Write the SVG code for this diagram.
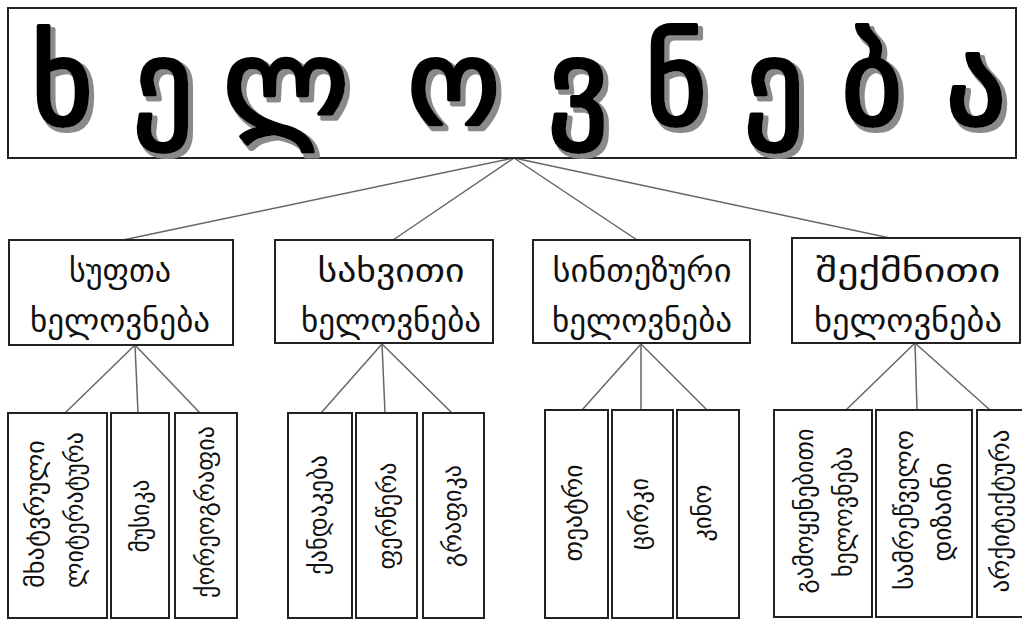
<svg xmlns="http://www.w3.org/2000/svg" width="1022" height="621" viewBox="0 0 1022 621">
<style>
.box{fill:#fff;stroke:#222;stroke-width:2}
.conn line{stroke:#666;stroke-width:1.5}
.t{font-family:"DejaVu Sans",sans-serif;fill:#111;text-anchor:middle}
.l2{font-size:32px}
.lf{font-size:26px}
.title{font-family:"DejaVu Sans",sans-serif;font-size:118px;text-anchor:middle;fill:#000;stroke:#000;stroke-width:4;stroke-linejoin:round}
</style>
<defs>
<filter id="shadow" x="-10%" y="-10%" width="130%" height="130%">
<feMorphology in="SourceAlpha" operator="dilate" radius="1" result="d"/>
<feOffset in="d" dx="4" dy="4" result="o"/>
<feFlood flood-color="#8a8a8a"/>
<feComposite in2="o" operator="in" result="s"/>
<feMerge><feMergeNode in="s"/><feMergeNode in="SourceGraphic"/></feMerge>
</filter>
</defs>
<rect width="1022" height="621" fill="#fff"/>
<g id="connectors" class="conn">
<line x1="514" y1="158" x2="123" y2="240"/>
<line x1="514" y1="158" x2="393" y2="240"/>
<line x1="514" y1="158" x2="637" y2="240"/>
<line x1="514" y1="158" x2="890" y2="238"/>
<line x1="135" y1="345" x2="65" y2="413"/>
<line x1="135" y1="345" x2="138" y2="413"/>
<line x1="135" y1="345" x2="200" y2="413"/>
<line x1="382" y1="344" x2="321" y2="413"/>
<line x1="382" y1="344" x2="385" y2="413"/>
<line x1="382" y1="344" x2="452" y2="413"/>
<line x1="641" y1="344" x2="582" y2="410"/>
<line x1="641" y1="344" x2="641" y2="410"/>
<line x1="641" y1="344" x2="707" y2="410"/>
<line x1="915" y1="343" x2="846" y2="410"/>
<line x1="915" y1="343" x2="917" y2="410"/>
<line x1="915" y1="343" x2="990" y2="410"/>
</g>
<g id="root">
<rect class="box" x="8" y="8" width="1008" height="150"/>
<text class="title" filter="url(#shadow)" x="62 163 286 454 578 676 774 872 976" y="124">ხელოვნება</text>
</g>
<g id="n-pure">
<rect class="box" x="9" y="240" width="224" height="105"/>
<text class="t l2" x="120" y="282" textLength="102" lengthAdjust="spacingAndGlyphs">სუფთა</text>
<text class="t l2" x="120" y="332" textLength="180" lengthAdjust="spacingAndGlyphs">ხელოვნება</text>
</g>
<g id="n-fine">
<rect class="box" x="275" y="240" width="218" height="103"/>
<text class="t l2" x="391" y="282" textLength="147" lengthAdjust="spacingAndGlyphs">სახვითი</text>
<text class="t l2" x="391" y="332" textLength="180" lengthAdjust="spacingAndGlyphs">ხელოვნება</text>
</g>
<g id="n-synth">
<rect class="box" x="533" y="240" width="217" height="103"/>
<text class="t l2" x="642" y="282" textLength="179" lengthAdjust="spacingAndGlyphs">სინთეზური</text>
<text class="t l2" x="642" y="332" textLength="180" lengthAdjust="spacingAndGlyphs">ხელოვნება</text>
</g>
<g id="n-create">
<rect class="box" x="792" y="238" width="228" height="105"/>
<text class="t l2" x="908" y="282" textLength="185" lengthAdjust="spacingAndGlyphs">შექმნითი</text>
<text class="t l2" x="908" y="332" textLength="188" lengthAdjust="spacingAndGlyphs">ხელოვნება</text>
</g>
<g id="leaf-literature">
<rect class="box" x="8" y="413" width="99" height="205"/>
<text class="t lf" transform="translate(36,514) rotate(-90)" dy="8" textLength="148" lengthAdjust="spacingAndGlyphs">მხატვრული</text>
<text class="t lf" transform="translate(75,510) rotate(-90)" dy="8" textLength="156" lengthAdjust="spacingAndGlyphs">ლიტერატურა</text>
</g>
<g id="leaf-music">
<rect class="box" x="111" y="413" width="58" height="205"/>
<text class="t lf" transform="translate(141,516) rotate(-90)" dy="8" textLength="73" lengthAdjust="spacingAndGlyphs">მუსიკა</text>
</g>
<g id="leaf-choreo">
<rect class="box" x="175" y="413" width="62" height="205"/>
<text class="t lf" transform="translate(206,512) rotate(-90)" dy="8" textLength="172" lengthAdjust="spacingAndGlyphs">ქორეოგრაფია</text>
</g>
<g id="leaf-sculpture">
<rect class="box" x="288" y="413" width="64" height="205"/>
<text class="t lf" transform="translate(319,515) rotate(-90)" dy="8" textLength="120" lengthAdjust="spacingAndGlyphs">ქანდაკება</text>
</g>
<g id="leaf-painting">
<rect class="box" x="356" y="413" width="61" height="205"/>
<text class="t lf" transform="translate(388,516) rotate(-90)" dy="8" textLength="107" lengthAdjust="spacingAndGlyphs">ფერწერა</text>
</g>
<g id="leaf-graphics">
<rect class="box" x="423" y="413" width="61" height="205"/>
<text class="t lf" transform="translate(453,516) rotate(-90)" dy="8" textLength="102" lengthAdjust="spacingAndGlyphs">გრაფიკა</text>
</g>
<g id="leaf-theatre">
<rect class="box" x="545" y="410" width="63" height="208"/>
<text class="t lf" transform="translate(574,513) rotate(-90)" dy="8" textLength="97" lengthAdjust="spacingAndGlyphs">თეატრი</text>
</g>
<g id="leaf-circus">
<rect class="box" x="612" y="410" width="61" height="208"/>
<text class="t lf" transform="translate(640,514) rotate(-90)" dy="8" textLength="72" lengthAdjust="spacingAndGlyphs">ცირკი</text>
</g>
<g id="leaf-cinema">
<rect class="box" x="677" y="410" width="62" height="208"/>
<text class="t lf" transform="translate(703,513) rotate(-90)" dy="8" textLength="57" lengthAdjust="spacingAndGlyphs">კინო</text>
</g>
<g id="leaf-applied">
<rect class="box" x="774" y="410" width="98" height="207"/>
<text class="t lf" transform="translate(805,511) rotate(-90)" dy="8" textLength="165" lengthAdjust="spacingAndGlyphs">გამოყენებითი</text>
<text class="t lf" transform="translate(844,512) rotate(-90)" dy="8" textLength="130" lengthAdjust="spacingAndGlyphs">ხელოვნება</text>
</g>
<g id="leaf-design">
<rect class="box" x="876" y="410" width="96" height="207"/>
<text class="t lf" transform="translate(905,510) rotate(-90)" dy="8" textLength="160" lengthAdjust="spacingAndGlyphs">სამრეწველო</text>
<text class="t lf" transform="translate(943,512) rotate(-90)" dy="8" textLength="99" lengthAdjust="spacingAndGlyphs">დიზაინი</text>
</g>
<g id="leaf-architecture">
<rect class="box" x="977" y="410" width="60" height="207"/>
<text class="t lf" transform="translate(1001,511) rotate(-90)" dy="8" textLength="163" lengthAdjust="spacingAndGlyphs">არქიტექტურა</text>
</g>
</svg>
